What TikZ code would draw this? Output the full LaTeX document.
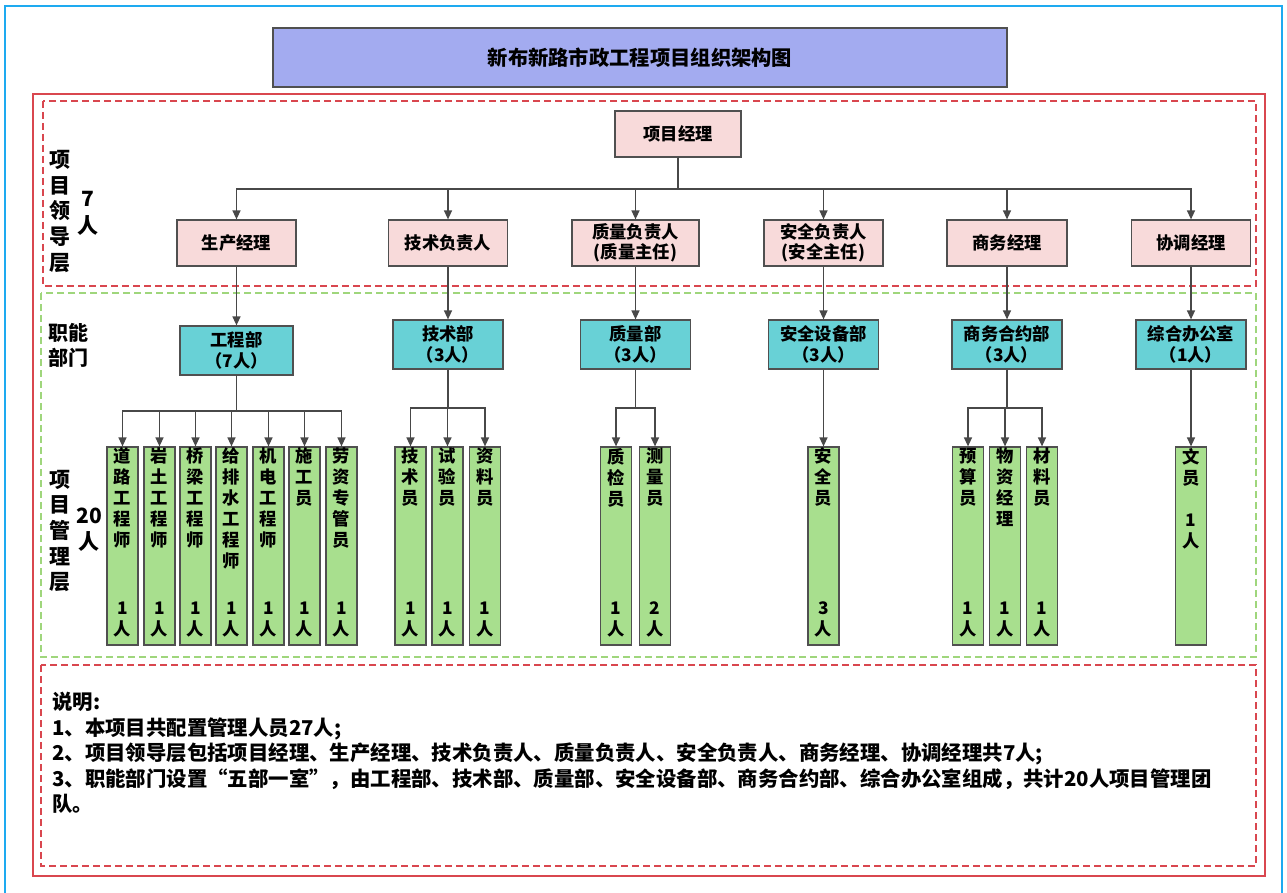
\documentclass[tikz,border=0pt]{standalone}
\usepackage{fontspec}
\setmainfont{Noto Sans CJK SC}
\usetikzlibrary{arrows.meta}

\definecolor{framecol}{HTML}{1EAAF0}
\definecolor{redline}{HTML}{D9474F}
\definecolor{greenline}{HTML}{9FD67C}
\definecolor{titlefill}{HTML}{A3ABF0}
\definecolor{leadfill}{HTML}{F8DADA}
\definecolor{deptfill}{HTML}{68D1D6}
\definecolor{stafffill}{HTML}{A8DF8E}
\definecolor{boxline}{HTML}{505050}
\definecolor{linkgray}{HTML}{484848}

% vertical text in the tall boxes: title at top, head count at bottom
\newcommand{\stafftext}[2]{\begin{minipage}[c][196pt][s]{30pt}\centering #1\par\vfill #2\par\vspace{7pt}\end{minipage}}

\begin{document}
\begin{tikzpicture}
        [x=1pt, y=-1pt,
        lead/.style={draw=boxline, fill=leadfill, line width=1.2pt, minimum width=119pt, minimum height=46pt, inner sep=0pt, align=center, font=\bfseries\fontsize{17.3}{20}\selectfont},
        dept/.style={draw=boxline, fill=deptfill, line width=1.2pt, minimum width=110pt, minimum height=49pt, inner sep=0pt, align=center, font=\bfseries\fontsize{17.3}{21}\selectfont},
        staff/.style={draw=boxline, fill=stafffill, line width=1.2pt, minimum width=31pt, minimum height=198pt, inner sep=0pt, font=\bfseries\fontsize{17.3}{21}\selectfont},
        side/.style={align=center, inner sep=0pt, font=\bfseries\fontsize{21}{25.7}\selectfont},
        link/.style={draw=linkgray, line width=1.3pt},
        arr/.style={link, -{Triangle[length=9pt,width=8pt]}},
        zone/.style={dash pattern=on 7pt off 4pt, line width=1.2pt}]

        \useasboundingbox (0,0) rectangle (1287,893);

        % frames
        \draw[framecol, line width=2.5pt] (5,6) rectangle (1282,900);
        \draw[redline, line width=1.3pt] (33,94) rectangle (1265,876);
        \draw[zone, draw=redline] (43,101) rectangle (1256,286);
        \draw[zone, draw=greenline] (41,293) rectangle (1256,657);
        \draw[zone, draw=redline] (41,665) rectangle (1256,866);

        \node[draw=boxline, fill=titlefill, line width=1.2pt, minimum width=734pt, minimum height=59pt, font=\bfseries\fontsize{20.3}{24}\selectfont] (title) at (640,57.5) {新布新路市政工程项目组织架构图};

        % leading group
        \node[lead, minimum width=126pt] (pm) at (678,134) {项目经理};
        \node[lead] (prod) at (236.5,243) {生产经理};
        \node[lead] (tech) at (448,243) {技术负责人};
        \node[lead, minimum width=127pt] (qual) at (635.5,243) {质量负责人\\(质量主任)};
        \node[lead] (safe) at (823.5,243) {安全负责人\\(安全主任)};
        \node[lead, minimum width=120pt] (biz) at (1007,243) {商务经理};
        \node[lead] (coord) at (1191,243) {协调经理};

        \coordinate (pmbus) at (678,189);
        \draw[arr] (pm.south) -- (pmbus) -| (prod.north);
        \draw[arr] (pm.south) -- (pmbus) -| (tech.north);
        \draw[arr] (pm.south) -- (pmbus) -| (qual.north);
        \draw[arr] (pm.south) -- (pmbus) -| (safe.north);
        \draw[arr] (pm.south) -- (pmbus) -| (biz.north);
        \draw[arr] (pm.south) -- (pmbus) -| (coord.north);

        % departments
        \node[dept, minimum width=113pt] (eng) at (236.5,350.5) {工程部\\（7人）};
        \node[dept] (techd) at (448,344.5) {技术部\\（3人）};
        \node[dept] (quald) at (635.5,344.5) {质量部\\（3人）};
        \node[dept] (safed) at (823.5,344.5) {安全设备部\\（3人）};
        \node[dept] (bizd) at (1007,344.5) {商务合约部\\（3人）};
        \node[dept] (office) at (1191,344.5) {综合办公室\\（1人）};

        \draw[arr] (prod.south) -- (eng.north);
        \draw[arr] (tech.south) -- (techd.north);
        \draw[arr] (qual.south) -- (quald.north);
        \draw[arr] (safe.south) -- (safed.north);
        \draw[arr] (biz.south) -- (bizd.north);
        \draw[arr] (coord.south) -- (office.north);

        % staff
        \node[staff] (road) at (122.5,546) {\stafftext{道\\路\\工\\程\\师}{1\\人}};
        \node[staff] (rock) at (159.5,546) {\stafftext{岩\\土\\工\\程\\师}{1\\人}};
        \node[staff] (bridge) at (195.5,546) {\stafftext{桥\\梁\\工\\程\\师}{1\\人}};
        \node[staff] (water) at (231.5,546) {\stafftext{给\\排\\水\\工\\程\\师}{1\\人}};
        \node[staff] (mech) at (268.5,546) {\stafftext{机\\电\\工\\程\\师}{1\\人}};
        \node[staff] (crew) at (304.5,546) {\stafftext{施\\工\\员}{1\\人}};
        \node[staff] (labour) at (341.5,546) {\stafftext{劳\\资\\专\\管\\员}{1\\人}};

        \node[staff] (techman) at (410.5,546) {\stafftext{技\\术\\员}{1\\人}};
        \node[staff] (tester) at (447.5,546) {\stafftext{试\\验\\员}{1\\人}};
        \node[staff] (docs) at (485,546) {\stafftext{资\\料\\员}{1\\人}};

        \node[staff] (inspect) at (616,546) {\stafftext{质\\检\\员}{1\\人}};
        \node[staff] (survey) at (655,546) {\stafftext{测\\量\\员}{2\\人}};

        \node[staff] (guard) at (823.5,546) {\stafftext{安\\全\\员}{3\\人}};

        \node[staff] (budget) at (968,546) {\stafftext{预\\算\\员}{1\\人}};
        \node[staff] (goods) at (1005,546) {\stafftext{物\\资\\经\\理}{1\\人}};
        \node[staff] (mater) at (1042,546) {\stafftext{材\\料\\员}{1\\人}};

        \node[staff] (clerk) at (1191,546) {\stafftext{文\\员\\[21pt]1\\人}{}};

        \coordinate (engbus) at (236.5,411);
        \draw[arr] (eng.south) -- (engbus) -| (road.north);
        \draw[arr] (eng.south) -- (engbus) -| (rock.north);
        \draw[arr] (eng.south) -- (engbus) -| (bridge.north);
        \draw[arr] (eng.south) -- (engbus) -| (water.north);
        \draw[arr] (eng.south) -- (engbus) -| (mech.north);
        \draw[arr] (eng.south) -- (engbus) -| (crew.north);
        \draw[arr] (eng.south) -- (engbus) -| (labour.north);

        \coordinate (techbus) at (448,408);
        \draw[arr] (techd.south) -- (techbus) -| (techman.north);
        \draw[arr] (techd.south) -- (techbus) -| (tester.north);
        \draw[arr] (techd.south) -- (techbus) -| (docs.north);

        \coordinate (qualbus) at (635.5,408);
        \draw[arr] (quald.south) -- (qualbus) -| (inspect.north);
        \draw[arr] (quald.south) -- (qualbus) -| (survey.north);

        \draw[arr] (safed.south) -- (guard.north);

        \coordinate (bizbus) at (1007,408);
        \draw[arr] (bizd.south) -- (bizbus) -| (budget.north);
        \draw[arr] (bizd.south) -- (bizbus) -| (goods.north);
        \draw[arr] (bizd.south) -- (bizbus) -| (mater.north);

        \draw[arr] (office.south) -- (clerk.north);

        % side labels
        \node[side] (leadlbl) at (60,211.5) {项\\目\\领\\导\\层};
        \node[side, font=\bfseries\fontsize{21}{27}\selectfont] (leadnum) at (88,213.5) {7\\人};
        \node[side, font=\bfseries\fontsize{20}{25}\selectfont] (deptlbl) at (68,345.5) {职能\\部门};
        \node[side] (mgmtlbl) at (60,531) {项\\目\\管\\理\\层};
        \node[side, font=\bfseries\fontsize{21}{26}\selectfont] (mgmtnum) at (89,530) {20\\人};

        % notes
        \node[anchor=north west, align=left, inner sep=0pt, font=\bfseries\fontsize{20.4}{25.5}\selectfont] (notes) at (52,692)
            {说明:\\1、本项目共配置管理人员27人;\\2、项目领导层包括项目经理、生产经理、技术负责人、质量负责人、安全负责人、商务经理、协调经理共7人;\\3、职能部门设置“五部一室”，由工程部、技术部、质量部、安全设备部、商务合约部、综合办公室组成，共计20人项目管理团\\队。};

    \end{tikzpicture}
\end{document}
